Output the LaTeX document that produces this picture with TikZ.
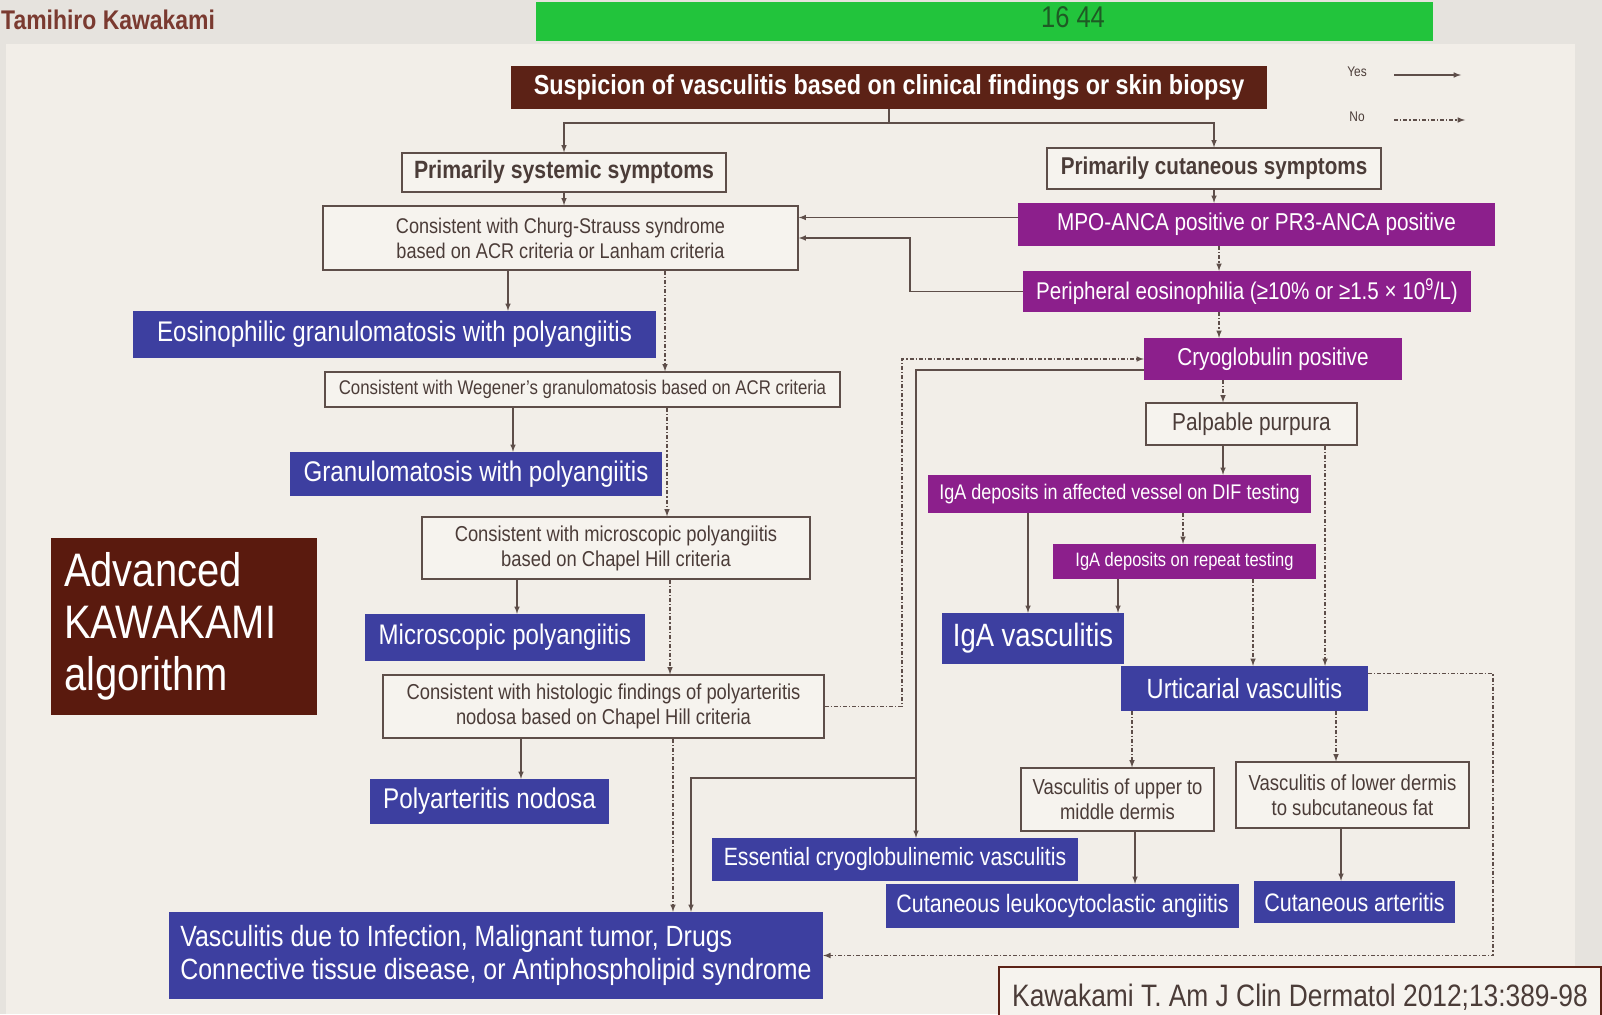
\documentclass[tikz,border=0pt]{standalone}
\usepackage{fontspec}
\setmainfont{Liberation Sans}[FakeStretch=0.85]
\usepackage{tikz}

\definecolor{pagebg}{HTML}{E6E3DE}
\definecolor{slidebg}{HTML}{F2EEE8}
\definecolor{greenbar}{HTML}{22C43C}
\definecolor{greenink}{HTML}{1E5A24}
\definecolor{titlebrown}{HTML}{5C2216}
\definecolor{akbrown}{HTML}{5A1A0E}
\definecolor{vblue}{HTML}{3D3FA0}
\definecolor{vpurple}{HTML}{8C1F8C}
\definecolor{boxfill}{HTML}{F6F3EE}
\definecolor{edge}{HTML}{5E4E49}
\definecolor{ink}{HTML}{4B3C38}
\definecolor{namebrown}{HTML}{7A3A30}

\newcommand{\fsz}[2]{\fontsize{#1}{#2}\selectfont}

\begin{document}
\begin{tikzpicture}[x=1pt,y=-1pt,>=latex,
  box/.style={draw=edge,line width=1.3pt,fill=boxfill,text=ink,inner sep=0pt,align=center},
  bluebox/.style={fill=vblue,text=white,inner sep=0pt,align=center},
  purplebox/.style={fill=vpurple,text=white,inner sep=0pt,align=center},
  yes/.style={->,draw=edge,line width=1.5pt},
  no/.style={->,draw=edge,line width=1.5pt,dash pattern=on 4pt off 2pt on 1.2pt off 2pt}]
\useasboundingbox (0,0) rectangle (1602,1014);
\fill[pagebg] (0,0) rectangle (1602,1014);
\fill[slidebg] (6,44) rectangle (1575,1014);

% header
\fill[greenbar] (536,2) rectangle (1433,41);
\node[text=greenink,font=\fsz{30}{34}] (clock) at (1073,17) {16 44};
\node[anchor=west,inner sep=0pt,text=namebrown,font=\fsz{27}{30}\bfseries] (speaker) at (1,20) {Tamihiro Kawakami};

% legend
\node[text=ink,font=\fsz{14}{16}] (yeslbl) at (1357,72) {Yes};
\node[text=ink,font=\fsz{14}{16}] (nolbl) at (1357,117) {No};
\coordinate (yesend) at (1461,75);
\coordinate (noend) at (1465,120);
\draw[yes] ([xshift=24pt,yshift=-3pt]yeslbl.east) -- (yesend);
\draw[no] ([xshift=26pt,yshift=-3pt]nolbl.east) -- (noend);

% left column
\node[fill=titlebrown,text=white,inner sep=0pt,minimum width=756,minimum height=43,font=\fsz{27.5}{31}\bfseries] (title) at (889,87.5) {Suspicion of vasculitis based on clinical findings or skin biopsy};
\node[box,minimum width=324,minimum height=39,font=\fsz{25}{29}\bfseries] (sys) at (564,172.5) {Primarily systemic symptoms};
\node[box,minimum width=334,minimum height=41,font=\fsz{24.3}{28}\bfseries] (cut) at (1214,168.5) {Primarily cutaneous symptoms};
\node[box,minimum width=475,minimum height=64,font=\fsz{21.3}{25}] (churg) at (560.5,238) {Consistent with Churg-Strauss syndrome\\based on ACR criteria or Lanham criteria};
\node[bluebox,minimum width=523,minimum height=47,font=\fsz{28.4}{32}] (egpa) at (394.5,334.5) {Eosinophilic granulomatosis with polyangiitis};
\node[box,minimum width=515,minimum height=35,font=\fsz{19.8}{23}] (wegener) at (582.5,389.5) {Consistent with Wegener's granulomatosis based on ACR criteria};
\node[bluebox,minimum width=372,minimum height=44,font=\fsz{28.4}{32}] (gpa) at (476,474) {Granulomatosis with polyangiitis};
\node[box,minimum width=388,minimum height=62,font=\fsz{21.6}{25}] (mpacons) at (616,548) {Consistent with microscopic polyangiitis\\based on Chapel Hill criteria};
\node[bluebox,minimum width=280,minimum height=47,font=\fsz{28.3}{32}] (mpa) at (505,637.5) {Microscopic polyangiitis};
\node[box,minimum width=441,minimum height=63,font=\fsz{21.6}{25}] (pancons) at (603.5,706.5) {Consistent with histologic findings of polyarteritis\\nodosa based on Chapel Hill criteria};
\node[bluebox,minimum width=239,minimum height=45,font=\fsz{28.5}{32}] (pan) at (489.5,801.5) {Polyarteritis nodosa};
\node[bluebox,minimum width=654,minimum height=87,align=left,font=\fsz{29.3}{33}] (other) at (496,955.5) {Vasculitis due to Infection, Malignant tumor, Drugs\\Connective tissue disease, or Antiphospholipid syndrome};

% right column
\node[purplebox,minimum width=477,minimum height=43,font=\fsz{24.4}{28}] (anca) at (1256.5,224.5) {MPO-ANCA positive or PR3-ANCA positive};
\node[purplebox,minimum width=448,minimum height=41,font=\fsz{24.2}{28}] (eos) at (1247,291.5) {Peripheral eosinophilia (≥10\% or ≥1.5 × 10\textsuperscript{9}/L)};
\node[purplebox,minimum width=258,minimum height=42,font=\fsz{24.4}{28}] (cryo) at (1273,359) {Cryoglobulin positive};
\node[box,minimum width=211,minimum height=42,font=\fsz{24.5}{28}] (palp) at (1251.5,424) {Palpable purpura};
\node[purplebox,minimum width=383,minimum height=38,font=\fsz{21.2}{25}] (igadif) at (1119.5,494) {IgA deposits in affected vessel on DIF testing};
\node[purplebox,minimum width=263,minimum height=35,font=\fsz{19.4}{23}] (igarep) at (1184.5,561.5) {IgA deposits on repeat testing};
\node[bluebox,minimum width=182,minimum height=51,font=\fsz{32.3}{36}] (igav) at (1033,638.5) {IgA vasculitis};
\node[bluebox,minimum width=247,minimum height=45,font=\fsz{27.8}{31}] (urtic) at (1244.5,688.5) {Urticarial vasculitis};
\node[box,minimum width=193,minimum height=63,font=\fsz{21.7}{25}] (upper) at (1117.5,799.5) {Vasculitis of upper to\\middle dermis};
\node[box,minimum width=233,minimum height=66,font=\fsz{21.8}{25}] (lower) at (1352.5,795) {Vasculitis of lower dermis\\to subcutaneous fat};
\node[bluebox,minimum width=366,minimum height=43,font=\fsz{25}{29}] (ecv) at (895,859.5) {Essential cryoglobulinemic vasculitis};
\node[bluebox,minimum width=353,minimum height=44,font=\fsz{25.2}{29}] (cla) at (1062.5,906) {Cutaneous leukocytoclastic angiitis};
\node[bluebox,minimum width=201,minimum height=42,font=\fsz{25.3}{29}] (ca) at (1354.5,902) {Cutaneous arteritis};

% side label and reference
\node[fill=akbrown,text=white,inner sep=0pt,minimum width=266,minimum height=177,text width=240,align=left,font=\fsz{47}{52}] (algo) at (184,626.5) {Advanced\\KAWAKAMI\\algorithm};
\node[draw=titlebrown,line width=2pt,fill=boxfill,text=ink,anchor=north west,minimum width=602,minimum height=60,inner sep=0pt,font=\fsz{31}{35}] (ref) at (998,966) {Kawakami T. Am J Clin Dermatol 2012;13:389-98};

% yes
\draw[yes] (title.south) -- ++(0,14) -| (sys.north);
\draw[yes] (title.south) -- ++(0,14) -| (cut.north);
\draw[yes] (sys.south) -- (sys.south |- churg.north);
\draw[yes] (cut.south) -- (cut.south |- anca.north);
\draw[yes] ([yshift=7pt]anca.west) -- ([yshift=7pt]anca.west -| churg.east);
\draw[yes] (eos.west) -- (910,0 |- eos.west) |- (churg.east);
\draw[yes] (508,0 |- churg.south) -- (508,0 |- egpa.north);
\draw[yes] (513,0 |- wegener.south) -- (513,0 |- gpa.north);
\draw[yes] (517,0 |- mpacons.south) -- (517,0 |- mpa.north);
\draw[yes] (521,0 |- pancons.south) -- (521,0 |- pan.north);
\draw[yes] ([yshift=-11pt]cryo.west) -| (916,0 |- ecv.north);
\draw[yes] (916,778) -| (691,0 |- other.north);
\draw[yes] (1223,0 |- palp.south) -- (1223,0 |- igadif.north);
\draw[yes] (1028,0 |- igadif.south) -- (1028,0 |- igav.north);
\draw[yes] (1118,0 |- igarep.south) -- (1118,0 |- igav.north);
\draw[yes] (1135,0 |- upper.south) -- (1135,0 |- cla.north);
\draw[yes] (1341,0 |- lower.south) -- (1341,0 |- ca.north);

% no
\draw[no] (1219,0 |- anca.south) -- (1219,0 |- eos.north);
\draw[no] (1219,0 |- eos.south) -- (1219,0 |- cryo.north);
\draw[no] (665,0 |- churg.south) -- (665,0 |- wegener.north);
\draw[no] (667,0 |- wegener.south) -- (667,0 |- mpacons.north);
\draw[no] (670,0 |- mpacons.south) -- (670,0 |- pancons.north);
\draw[no] (673,0 |- pancons.south) -- (673,0 |- other.north);
\draw[no] (pancons.east) -- (902,0 |- pancons.east) |- (cryo.west);
\draw[no] (1223,0 |- cryo.south) -- (1223,0 |- palp.north);
\draw[no] (1325,0 |- palp.south) -- (1325,0 |- urtic.north);
\draw[no] (1183,0 |- igadif.south) -- (1183,0 |- igarep.north);
\draw[no] (1253,0 |- igarep.south) -- (1253,0 |- urtic.north);
\draw[no] ([yshift=15pt]urtic.east) -- ([yshift=15pt]urtic.east -| 1493,0) |- (other.east);
\draw[no] (1132,0 |- urtic.south) -- (1132,0 |- upper.north);
\draw[no] (1336,0 |- urtic.south) -- (1336,0 |- lower.north);
\end{tikzpicture}
\end{document}
